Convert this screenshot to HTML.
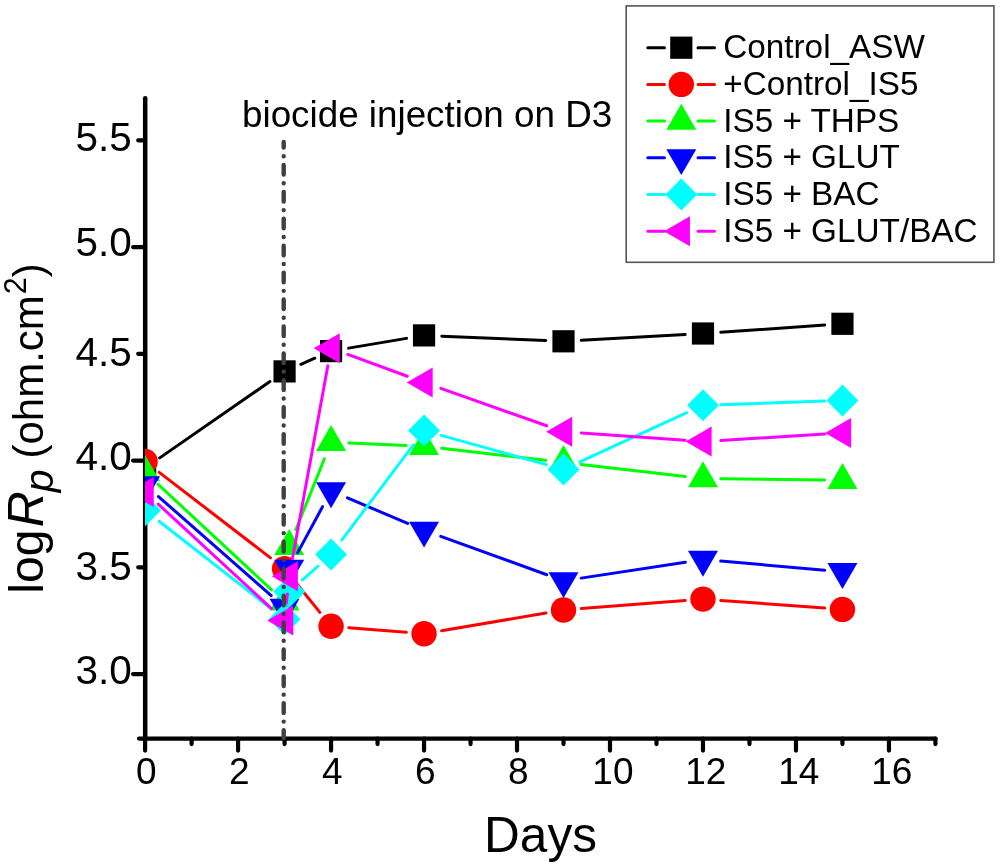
<!DOCTYPE html>
<html><head><meta charset="utf-8"><title>logRp vs Days</title><style>
html,body{margin:0;padding:0;background:#fff;overflow:hidden;}
svg{display:block;will-change:transform;}
text{font-family:"Liberation Sans",sans-serif;fill:#000;}
</style></head><body>
<svg width="1000" height="868" viewBox="0 0 1000 868">
<rect width="1000" height="868" fill="#fff"/>

<defs><clipPath id="pc"><rect x="144.9" y="0" width="900" height="868"/></clipPath></defs>
<path d="M145.2 98.15V738.6" stroke="#000" stroke-width="4.5" stroke-linecap="round" fill="none"/>
<path d="M139.05 738.6H935.43" stroke="#000" stroke-width="4.3" stroke-linecap="round" fill="none"/>
<path d="M145.1 738.6V750.6M191.59 738.6V744.1M238.08 738.6V750.6M284.57 738.6V744.1M331.06 738.6V750.6M377.55 738.6V744.1M424.04 738.6V750.6M470.53 738.6V744.1M517.02 738.6V750.6M563.51 738.6V744.1M610 738.6V750.6M656.49 738.6V744.1M702.98 738.6V750.6M749.47 738.6V744.1M795.96 738.6V750.6M842.45 738.6V744.1M888.94 738.6V750.6M935.43 738.6V744.1M133.1 674.1H145.2M138.2 567.35H145.2M133.1 460.6H145.2M138.2 353.85H145.2M133.1 247.1H145.2M138.2 140.35H145.2" stroke="#000" stroke-width="4.2" stroke-linecap="round" fill="none"/>
<g clip-path="url(#pc)">
<path d="M159.73 457.86L269.94 381.54M300.88 364.28L314.75 358.22M348.61 348.14L406.49 338.36M441.82 336.15L545.73 340.55M581.28 340.31L685.21 334.49M720.74 332.27L824.69 325.03" stroke="#000000" stroke-width="3.0" stroke-linecap="round" fill="none"/>
<rect x="134" y="456.9" width="22.2" height="22.2" fill="#000000"/>
<rect x="273.47" y="360.3" width="22.2" height="22.2" fill="#000000"/>
<rect x="319.96" y="340" width="22.2" height="22.2" fill="#000000"/>
<rect x="412.94" y="324.3" width="22.2" height="22.2" fill="#000000"/>
<rect x="552.41" y="330.2" width="22.2" height="22.2" fill="#000000"/>
<rect x="691.88" y="322.4" width="22.2" height="22.2" fill="#000000"/>
<rect x="831.35" y="312.7" width="22.2" height="22.2" fill="#000000"/>
<path d="M159.21 472.35L270.46 557.85M295.76 582.54L319.87 612.36M348.8 627.65L406.3 632.35M441.59 630.81L545.96 612.99M581.26 608.61L685.23 600.49M720.73 600.41L824.7 608.09" stroke="#ff0000" stroke-width="3.0" stroke-linecap="round" fill="none"/>
<circle cx="145.1" cy="461.5" r="12.7" fill="#ff0000"/>
<circle cx="284.57" cy="568.7" r="12.7" fill="#ff0000"/>
<circle cx="331.06" cy="626.2" r="12.7" fill="#ff0000"/>
<circle cx="424.04" cy="633.8" r="12.7" fill="#ff0000"/>
<circle cx="563.51" cy="610" r="12.7" fill="#ff0000"/>
<circle cx="702.98" cy="599.1" r="12.7" fill="#ff0000"/>
<circle cx="842.45" cy="609.4" r="12.7" fill="#ff0000"/>
<path d="M158.14 484.42L271.53 589.78M286.05 584.16L287.74 564.04M295.86 529.79L324.42 458.81M348.84 443.07L406.26 445.53M441.72 448.34L545.83 460.36M581.19 464.45L685.3 476.55M720.78 478.82L824.65 480.08" stroke="#00ff00" stroke-width="3.0" stroke-linecap="round" fill="none"/>
<polygon points="145.1,454.98 160.1,480.96 130.1,480.96" fill="#00ff00"/>
<polygon points="284.57,584.58 299.57,610.56 269.57,610.56" fill="#00ff00"/>
<polygon points="289.22,528.98 304.22,554.96 274.22,554.96" fill="#00ff00"/>
<polygon points="331.06,424.98 346.06,450.96 316.06,450.96" fill="#00ff00"/>
<polygon points="424.04,428.98 439.04,454.96 409.04,454.96" fill="#00ff00"/>
<polygon points="563.51,445.08 578.51,471.06 548.51,471.06" fill="#00ff00"/>
<polygon points="702.98,461.28 717.98,487.26 687.98,487.26" fill="#00ff00"/>
<polygon points="842.45,462.98 857.45,488.96 827.45,488.96" fill="#00ff00"/>
<path d="M158.47 496.55L271.2 595.55M286.68 589.63L287.11 585.97M297.69 552.65L322.59 506.65M347.46 497.93L407.64 523.37M440.78 536.36L546.77 574.74M581.11 578.11L685.38 562.19M720.71 561.05L824.72 570.15" stroke="#0000ff" stroke-width="3.0" stroke-linecap="round" fill="none"/>
<polygon points="145.1,502.12 160.1,476.14 130.1,476.14" fill="#0000ff"/>
<polygon points="284.57,624.62 299.57,598.64 269.57,598.64" fill="#0000ff"/>
<polygon points="289.22,585.62 304.22,559.64 274.22,559.64" fill="#0000ff"/>
<polygon points="331.06,508.32 346.06,482.34 316.06,482.34" fill="#0000ff"/>
<polygon points="424.04,547.62 439.04,521.64 409.04,521.64" fill="#0000ff"/>
<polygon points="563.51,598.12 578.51,572.14 548.51,572.14" fill="#0000ff"/>
<polygon points="702.98,576.82 717.98,550.84 687.98,550.84" fill="#0000ff"/>
<polygon points="842.45,589.02 857.45,563.04 827.45,563.04" fill="#0000ff"/>
<path d="M159.13 521.25L270.54 608.25M302.49 579.94L317.79 566.26M341.75 540.17L413.35 444.83M441.19 435.37L546.36 464.63M579.68 461.97L686.81 412.73M720.77 404.69L824.66 401.11" stroke="#00ffff" stroke-width="3.0" stroke-linecap="round" fill="none"/>
<polygon points="145.1,494.3 161.1,510.3 145.1,526.3 129.1,510.3" fill="#00ffff"/>
<polygon points="284.57,603.2 300.57,619.2 284.57,635.2 268.57,619.2" fill="#00ffff"/>
<polygon points="289.22,575.8 305.22,591.8 289.22,607.8 273.22,591.8" fill="#00ffff"/>
<polygon points="331.06,538.4 347.06,554.4 331.06,570.4 315.06,554.4" fill="#00ffff"/>
<polygon points="424.04,414.6 440.04,430.6 424.04,446.6 408.04,430.6" fill="#00ffff"/>
<polygon points="563.51,453.4 579.51,469.4 563.51,485.4 547.51,469.4" fill="#00ffff"/>
<polygon points="702.98,389.3 718.98,405.3 702.98,421.3 686.98,405.3" fill="#00ffff"/>
<polygon points="842.45,384.5 858.45,400.5 842.45,416.5 826.45,400.5" fill="#00ffff"/>
<path d="M158.19 504.07L271.48 608.53M286.42 602.9L287.37 593.9M292.43 558.69L327.85 365.81M347.77 354.43L407.33 376.27M440.82 388.33L546.73 425.77M581.27 432.95L685.22 440.25M720.75 440.42L824.68 434.08" stroke="#ff00ff" stroke-width="3.0" stroke-linecap="round" fill="none"/>
<polygon points="127.78,492 153.76,477 153.76,507" fill="#ff00ff"/>
<polygon points="267.25,620.6 293.23,605.6 293.23,635.6" fill="#ff00ff"/>
<polygon points="271.9,576.2 297.88,561.2 297.88,591.2" fill="#ff00ff"/>
<polygon points="313.74,348.3 339.72,333.3 339.72,363.3" fill="#ff00ff"/>
<polygon points="406.72,382.4 432.7,367.4 432.7,397.4" fill="#ff00ff"/>
<polygon points="546.19,431.7 572.17,416.7 572.17,446.7" fill="#ff00ff"/>
<polygon points="685.66,441.5 711.64,426.5 711.64,456.5" fill="#ff00ff"/>
<polygon points="825.13,433 851.11,418 851.11,448" fill="#ff00ff"/>
</g>
<path d="M283.7 141.9V738" stroke="#404040" stroke-width="4.4" stroke-linecap="round" stroke-dasharray="9.6 8.66 0 8.66" stroke-dashoffset="3.9" fill="none"/>
<text x="146.3" y="783.7" font-size="37" text-anchor="middle">0</text>
<text x="239.28" y="783.7" font-size="37" text-anchor="middle">2</text>
<text x="332.26" y="783.7" font-size="37" text-anchor="middle">4</text>
<text x="425.24" y="783.7" font-size="37" text-anchor="middle">6</text>
<text x="518.22" y="783.7" font-size="37" text-anchor="middle">8</text>
<text x="612.9" y="783.7" font-size="37" text-anchor="middle">10</text>
<text x="705.88" y="783.7" font-size="37" text-anchor="middle">12</text>
<text x="798.86" y="783.7" font-size="37" text-anchor="middle">14</text>
<text x="891.84" y="783.7" font-size="37" text-anchor="middle">16</text>
<text x="131.8" y="683.8" font-size="40.5" text-anchor="end">3.0</text>
<text x="131.8" y="580.4" font-size="40.5" text-anchor="end">3.5</text>
<text x="131.8" y="469.95" font-size="40.5" text-anchor="end">4.0</text>
<text x="131.8" y="366.4" font-size="40.5" text-anchor="end">4.5</text>
<text x="131.8" y="256.3" font-size="40.5" text-anchor="end">5.0</text>
<text x="131.8" y="151.1" font-size="40.5" text-anchor="end">5.5</text>
<text x="540.5" y="852" font-size="49.5" text-anchor="middle">Days</text>
<text transform="translate(42.8 593.7) rotate(-90)" font-size="48">log<tspan font-style="italic" font-size="50" dx="2.5">R</tspan><tspan font-style="italic" font-size="41" dx="-1.3" dy="10">p</tspan><tspan font-size="42" dx="-0.7" dy="-10"> (ohm.cm</tspan><tspan font-size="30.5" dx="1" dy="-16.6">2</tspan><tspan font-size="42" dy="16.6">)</tspan></text>
<text x="242" y="127" font-size="36.8">biocide injection on D3</text>
<rect x="626.2" y="5.9" width="367.7" height="256.4" fill="none" stroke="#555" stroke-width="1.6"/>
<path d="M647.8 47.7H664.5M698 47.7H714.5" stroke="#000000" stroke-width="3.0" stroke-linecap="round" fill="none"/>
<rect x="670.2" y="36.6" width="22.2" height="22.2" fill="#000000"/>
<text x="723.2" y="58.1" font-size="33.3">Control_ASW</text>
<path d="M647.8 84.4H664.5M698 84.4H714.5" stroke="#ff0000" stroke-width="3.0" stroke-linecap="round" fill="none"/>
<circle cx="681.3" cy="84.4" r="12.7" fill="#ff0000"/>
<text x="723.2" y="94.8" font-size="33.3">+Control_IS5</text>
<path d="M647.8 121.1H664.5M698 121.1H714.5" stroke="#00ff00" stroke-width="3.0" stroke-linecap="round" fill="none"/>
<polygon points="681.3,103.78 696.3,129.76 666.3,129.76" fill="#00ff00"/>
<text x="723.2" y="131.5" font-size="33.3">IS5 + THPS</text>
<path d="M647.8 157.8H664.5M698 157.8H714.5" stroke="#0000ff" stroke-width="3.0" stroke-linecap="round" fill="none"/>
<polygon points="681.3,175.12 696.3,149.14 666.3,149.14" fill="#0000ff"/>
<text x="723.2" y="168.2" font-size="33.3">IS5 + GLUT</text>
<path d="M647.8 194.5H664.5M698 194.5H714.5" stroke="#00ffff" stroke-width="3.0" stroke-linecap="round" fill="none"/>
<polygon points="681.3,178.5 697.3,194.5 681.3,210.5 665.3,194.5" fill="#00ffff"/>
<text x="723.2" y="204.9" font-size="33.3">IS5 + BAC</text>
<path d="M647.8 231.2H664.5M698 231.2H714.5" stroke="#ff00ff" stroke-width="3.0" stroke-linecap="round" fill="none"/>
<polygon points="663.98,231.2 689.96,216.2 689.96,246.2" fill="#ff00ff"/>
<text x="723.2" y="241.6" font-size="33.3">IS5 + GLUT/BAC</text>
</svg></body></html>
